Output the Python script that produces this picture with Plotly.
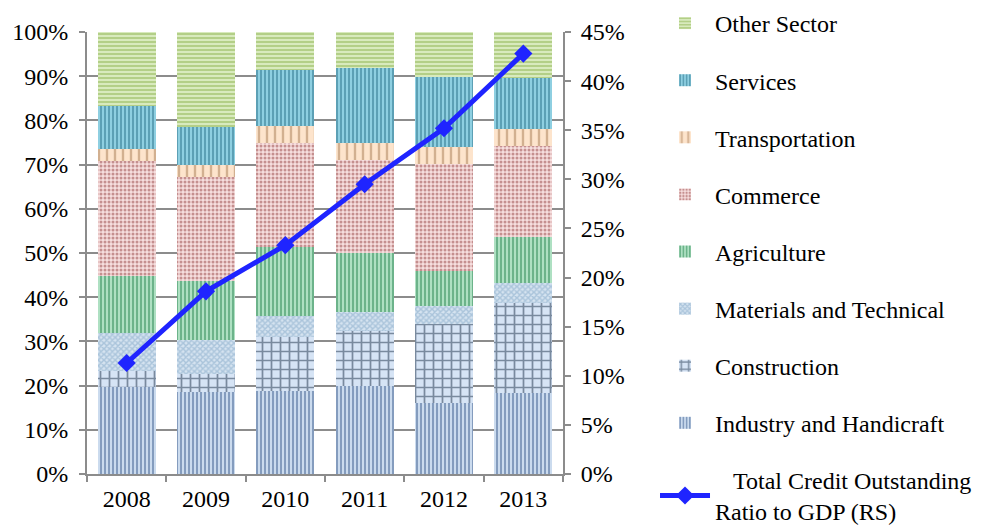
import plotly.graph_objects as go

years = ["2008", "2009", "2010", "2011", "2012", "2013"]

industry = [19.6, 18.6, 18.8, 19.9, 16.1, 18.3]
construction = [3.7, 4.0, 12.1, 12.5, 17.8, 20.5]
materials = [8.7, 7.7, 4.9, 4.2, 4.2, 4.5]
agriculture = [12.9, 13.4, 15.6, 13.3, 7.9, 10.4]
commerce = [26.0, 23.6, 23.4, 21.1, 24.1, 20.5]
transportation = [2.6, 2.6, 3.9, 4.0, 3.9, 3.8]
services = [9.8, 8.5, 12.7, 16.9, 15.8, 11.7]
other = [16.7, 21.6, 8.6, 8.1, 10.1, 10.3]

credit_ratio = [11.3, 18.6, 23.3, 29.5, 35.2, 42.8]

left_ticks = [0, 10, 20, 30, 40, 50, 60, 70, 80, 90, 100]
right_ticks = [0, 5, 10, 15, 20, 25, 30, 35, 40, 45]

series = [
    ("Industry and Handicraft", industry, "|", "#35568a", "#d3e2f3", 4, 0.55, 8),
    ("Construction", construction, "+", "#1b2f48", "#d6e4f5", 9, 0.35, 7),
    ("Materials and Technical", materials, "x", "#7fa6c6", "#d5e3f0", 4, 0.6, 6),
    ("Agriculture", agriculture, "|", "#2a8552", "#aee0c2", 4, 0.5, 5),
    ("Commerce", commerce, ".", "#944040", "#f6dede", 4, 0.45, 4),
    ("Transportation", transportation, "|", "#a87b53", "#fde4cc", 8, 0.3, 3),
    ("Services", services, "|", "#2a7189", "#8ecfe1", 4, 0.5, 2),
    ("Other Sector", other, "-", "#8db352", "#d8eabd", 4, 0.5, 1),
]

font_family = "Liberation Serif, Times New Roman, serif"

fig = go.Figure()
for name, vals, shape, fg, bg, size, sol, rank in series:
    fig.add_trace(go.Bar(
        x=years, y=vals, name=name,
        legendrank=rank, legendgroup=name,
        marker=dict(
            color=bg,
            line=dict(width=0),
            pattern=dict(shape=shape, fgcolor=fg, bgcolor=bg, size=size,
                         solidity=sol, fillmode="overlay"),
        ),
    ))

fig.add_trace(go.Scatter(
    x=years, y=credit_ratio, yaxis="y2",
    name="\u00a0\u00a0\u00a0Total Credit Outstanding<br>Ratio to GDP (RS)",
    legendrank=9, legendgroup="line",
    mode="lines+markers",
    line=dict(color="#1f24ff", width=5),
    marker=dict(symbol="diamond", size=14, color="#1f24ff"),
))

# page body has an 8px default margin, so the figure is sized/offset to compensate
fig.update_layout(
    width=973, height=517,
    barmode="stack", bargap=0.27,
    paper_bgcolor="white", plot_bgcolor="white",
    margin=dict(l=79, r=418, t=24, b=51, autoexpand=False),
    font=dict(family=font_family, size=24, color="black"),
    showlegend=True,
    legend=dict(
        x=1.1933, y=1.0701, xanchor="left", yanchor="top",
        traceorder="grouped", tracegroupgap=22.9,
        font=dict(family=font_family, size=24, color="black"),
        itemwidth=50, bgcolor="rgba(0,0,0,0)",
        maxheight=700,
    ),
    xaxis=dict(
        showgrid=False, showline=True, linecolor="#8c8c8c", linewidth=2,
        ticks="outside", tickson="boundaries", ticklen=6, tickcolor="#8c8c8c",
        tickwidth=2, tickfont=dict(size=24), automargin=False,
        ticklabelstandoff=2,
    ),
    yaxis=dict(
        range=[0, 100], tickvals=left_ticks,
        ticktext=[f"{v}%" for v in left_ticks],
        showgrid=True, gridcolor="#8c8c8c", gridwidth=2,
        showline=True, linecolor="#8c8c8c", linewidth=2,
        ticks="outside", ticklen=6, tickcolor="#8c8c8c", tickwidth=2,
        tickfont=dict(size=24), zeroline=False, automargin=False,
        ticklabelstandoff=6,
    ),
    yaxis2=dict(
        range=[0, 45], tickvals=right_ticks,
        ticktext=[f"{v}%" for v in right_ticks],
        overlaying="y", side="right", showgrid=False,
        showline=True, linecolor="#8c8c8c", linewidth=2,
        ticks="outside", ticklen=6, tickcolor="#8c8c8c", tickwidth=2,
        tickfont=dict(size=24), zeroline=False, automargin=False,
        ticklabelstandoff=5,
    ),
)

fig.write_html("out.html")
